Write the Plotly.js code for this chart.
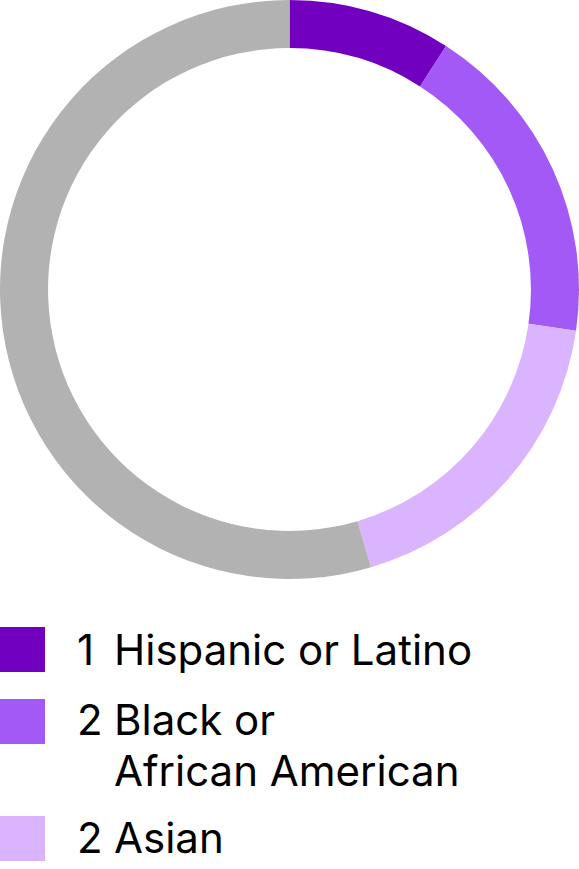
<!DOCTYPE html>
<html>
<head>
<meta charset="utf-8">
<script src="https://cdn.plot.ly/plotly-3.0.1.min.js"></script>
<style>html,body{margin:0;padding:0;background:#fff;}#chart{width:579px;height:869px;}</style>
</head>
<body>
<div id="chart"></div>
<script>
const labels = ["Hispanic or Latino", "Black or African American", "Asian", "Other"];
const values = [1, 2, 2, 6];
const colors = ["#7200BF", "#A259F6", "#DBB4FF", "#B2B2B2"];
const legendNumbers = ["1", "2", "2"];
const legendLines = [["Hispanic or Latino"], ["Black or", "African American"], ["Asian"]];

const W = 579, H = 869;
const px = x => x / W;
const py = y => 1 - y / H;

const trace = {
  type: "pie",
  labels: labels,
  values: values,
  marker: {colors: colors, line: {width: 0}},
  hole: 0.834,
  sort: false,
  direction: "clockwise",
  rotation: 0,
  textinfo: "none",
  hoverinfo: "none",
  showlegend: false,
  domain: {x: [0, 1], y: [1 - 579 / H, 1]}
};

const shapes = [];
const annotations = [];
const squareTops = [627, 699, 816];
const baselines = [[667], [737, 788], [855]];
const fontSize = 42;
const fam = "Inter, Roboto, sans-serif";
for (let i = 0; i < legendNumbers.length; i++) {
  shapes.push({type: "rect", xref: "paper", yref: "paper",
    x0: px(0), x1: px(45), y0: py(squareTops[i]), y1: py(squareTops[i] + 45),
    fillcolor: colors[i], line: {width: 0}});
  annotations.push({xref: "paper", yref: "paper", x: px(75), y: py(baselines[i][0] + 10),
    xanchor: "left", yanchor: "bottom", text: legendNumbers[i], showarrow: false,
    font: {family: fam, size: fontSize, color: "#000"}});
  legendLines[i].forEach((t, j) => {
    annotations.push({xref: "paper", yref: "paper", x: px(112), y: py(baselines[i][j] + 10),
      xanchor: "left", yanchor: "bottom", text: t, showarrow: false,
      font: {family: fam, size: fontSize, color: "#000"}});
  });
}

Plotly.newPlot("chart", [trace], {
  width: W, height: H,
  margin: {l: 0, r: 0, t: 0, b: 0},
  paper_bgcolor: "#fff",
  showlegend: false,
  shapes: shapes,
  annotations: annotations
}, {displayModeBar: false, staticPlot: true});
</script>
</body>
</html>
